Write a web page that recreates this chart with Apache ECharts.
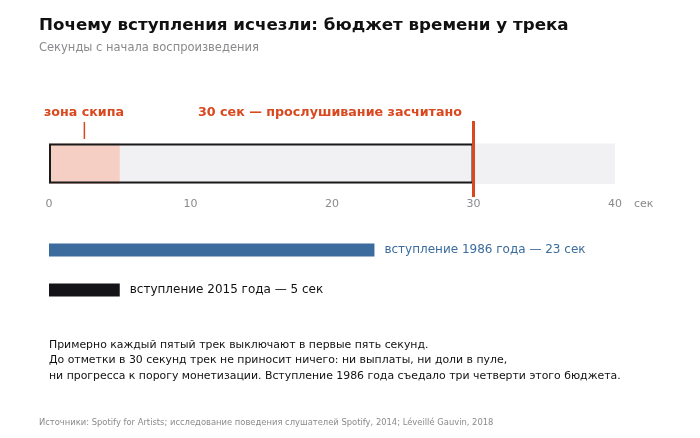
<!DOCTYPE html>
<html><head><meta charset="utf-8">
<script src="https://cdn.jsdelivr.net/npm/echarts@6/dist/echarts.min.js"></script>
<style>html,body{margin:0;padding:0;background:#fff}#c{width:700px;height:438px}</style>
</head><body><div id="c"></div>
<script>
// ---- data ----
const axisTicks = [0, 10, 20, 30, 40];
const budgetMax = [40];
const skipZone = [5];
const countedAt = [30];
const skipMarker = [2.5];
const introCategories = ['вступление 1986 года', 'вступление 2015 года'];
const introSeconds = [23, 5];
const introLabels = ['вступление 1986 года — 23 сек', 'вступление 2015 года — 5 сек'];
const introColors = ['#3b6c9d', '#141418'];
const introLabelColors = ['#3b6c9d', '#111111'];
const notes = [
  'Примерно каждый пятый трек выключают в первые пять секунд.',
  'До отметки в 30 секунд трек не приносит ничего: ни выплаты, ни доли в пуле,',
  'ни прогресса к порогу монетизации. Вступление 1986 года съедало три четверти этого бюджета.'
];

const FONT = 'DejaVu Sans';
const RED = '#d9481f';
const chart = echarts.init(document.getElementById('c'), null, {renderer: 'canvas'});

const L = 49, W = 566;
const option = {
  backgroundColor: '#fff',
  animation: false,
  textStyle: {fontFamily: FONT},
  grid: [
    {left: L, width: W, top: 143, height: 41},
    {left: L, width: W, top: 230, height: 80},
    {left: L, width: W, top: 121, height: 76}
  ],
  xAxis: [
    {gridIndex: 0, type: 'value', min: axisTicks[0], max: axisTicks[axisTicks.length - 1], interval: 10,
     axisLine: {show: false}, axisTick: {show: false}, splitLine: {show: false},
     axisLabel: {color: '#8a8a8e', fontSize: 11, margin: 15, fontFamily: FONT}},
    {gridIndex: 1, type: 'value', min: 0, max: 40, show: false},
    {gridIndex: 2, type: 'value', min: 0, max: 40, show: false}
  ],
  yAxis: [
    {gridIndex: 0, type: 'category', data: ['budget'], show: false},
    {gridIndex: 1, type: 'category', data: introCategories, inverse: true, show: false},
    {gridIndex: 2, type: 'value', min: 0, max: 76, inverse: true, show: false}
  ],
  series: [
    {type: 'bar', xAxisIndex: 0, yAxisIndex: 0, data: budgetMax, barWidth: 41, barGap: '-100%',
     itemStyle: {color: '#f1f1f3'}, silent: true},
    {type: 'bar', xAxisIndex: 0, yAxisIndex: 0, data: skipZone, barWidth: 41, barGap: '-100%',
     itemStyle: {color: '#f5cfc4'}, silent: true},
    {type: 'bar', xAxisIndex: 0, yAxisIndex: 0, data: countedAt, barWidth: 40, barGap: '-100%',
     itemStyle: {color: 'rgba(0,0,0,0)', borderColor: '#1a1a1a', borderWidth: 2}, silent: true},
    {type: 'bar', xAxisIndex: 1, yAxisIndex: 1, barWidth: 13,
     data: introSeconds.map((v, i) => ({value: v, itemStyle: {color: introColors[i]},
       label: {color: introLabelColors[i]}})),
     label: {show: true, position: 'right', distance: 10, fontSize: 12, fontFamily: FONT,
       formatter: p => introLabels[p.dataIndex]}, silent: true},
    {type: 'line', xAxisIndex: 2, yAxisIndex: 2, data: [[countedAt[0], 0], [countedAt[0], 76]],
     symbol: 'none', lineStyle: {color: RED, width: 3}, silent: true, z: 5},
    {type: 'line', xAxisIndex: 2, yAxisIndex: 2, data: [[skipMarker[0], 1], [skipMarker[0], 18]],
     symbol: 'none', lineStyle: {color: RED, width: 1.5}, silent: true, z: 5}
  ],
  graphic: [
    {type: 'text', x: 39, y: 25.5, style: {text: 'Почему вступления исчезли: бюджет времени у трека',
      font: 'bold 16.7px "DejaVu Sans"', fill: '#111', verticalAlign: 'middle'}},
    {type: 'text', x: 39, y: 48.5, style: {text: 'Секунды с начала воспроизведения',
      font: '11.5px "DejaVu Sans"', fill: '#8a8a8e', verticalAlign: 'middle'}},
    {type: 'text', x: 84, y: 113, style: {text: 'зона скипа', font: 'bold 12.7px "DejaVu Sans"',
      fill: RED, align: 'center', verticalAlign: 'middle'}},
    {type: 'text', x: 462, y: 113, style: {text: '30 сек — прослушивание засчитано', font: 'bold 12.7px "DejaVu Sans"',
      fill: RED, align: 'right', verticalAlign: 'middle'}},
    {type: 'text', x: 634, y: 204, style: {text: 'сек', font: '11px "DejaVu Sans"',
      fill: '#8a8a8e', verticalAlign: 'middle'}},
    {type: 'text', x: 49, y: 337, style: {text: notes.join('\n'), font: '10.9px "DejaVu Sans"',
      fill: '#111', lineHeight: 15.5}},
    {type: 'text', x: 39, y: 423, style: {text: 'Источники: Spotify for Artists; исследование поведения слушателей Spotify, 2014; Léveillé Gauvin, 2018',
      font: '8.4px "DejaVu Sans"', fill: '#8a8a8e', verticalAlign: 'middle'}}
  ]
};
chart.setOption(option);
</script></body></html>
